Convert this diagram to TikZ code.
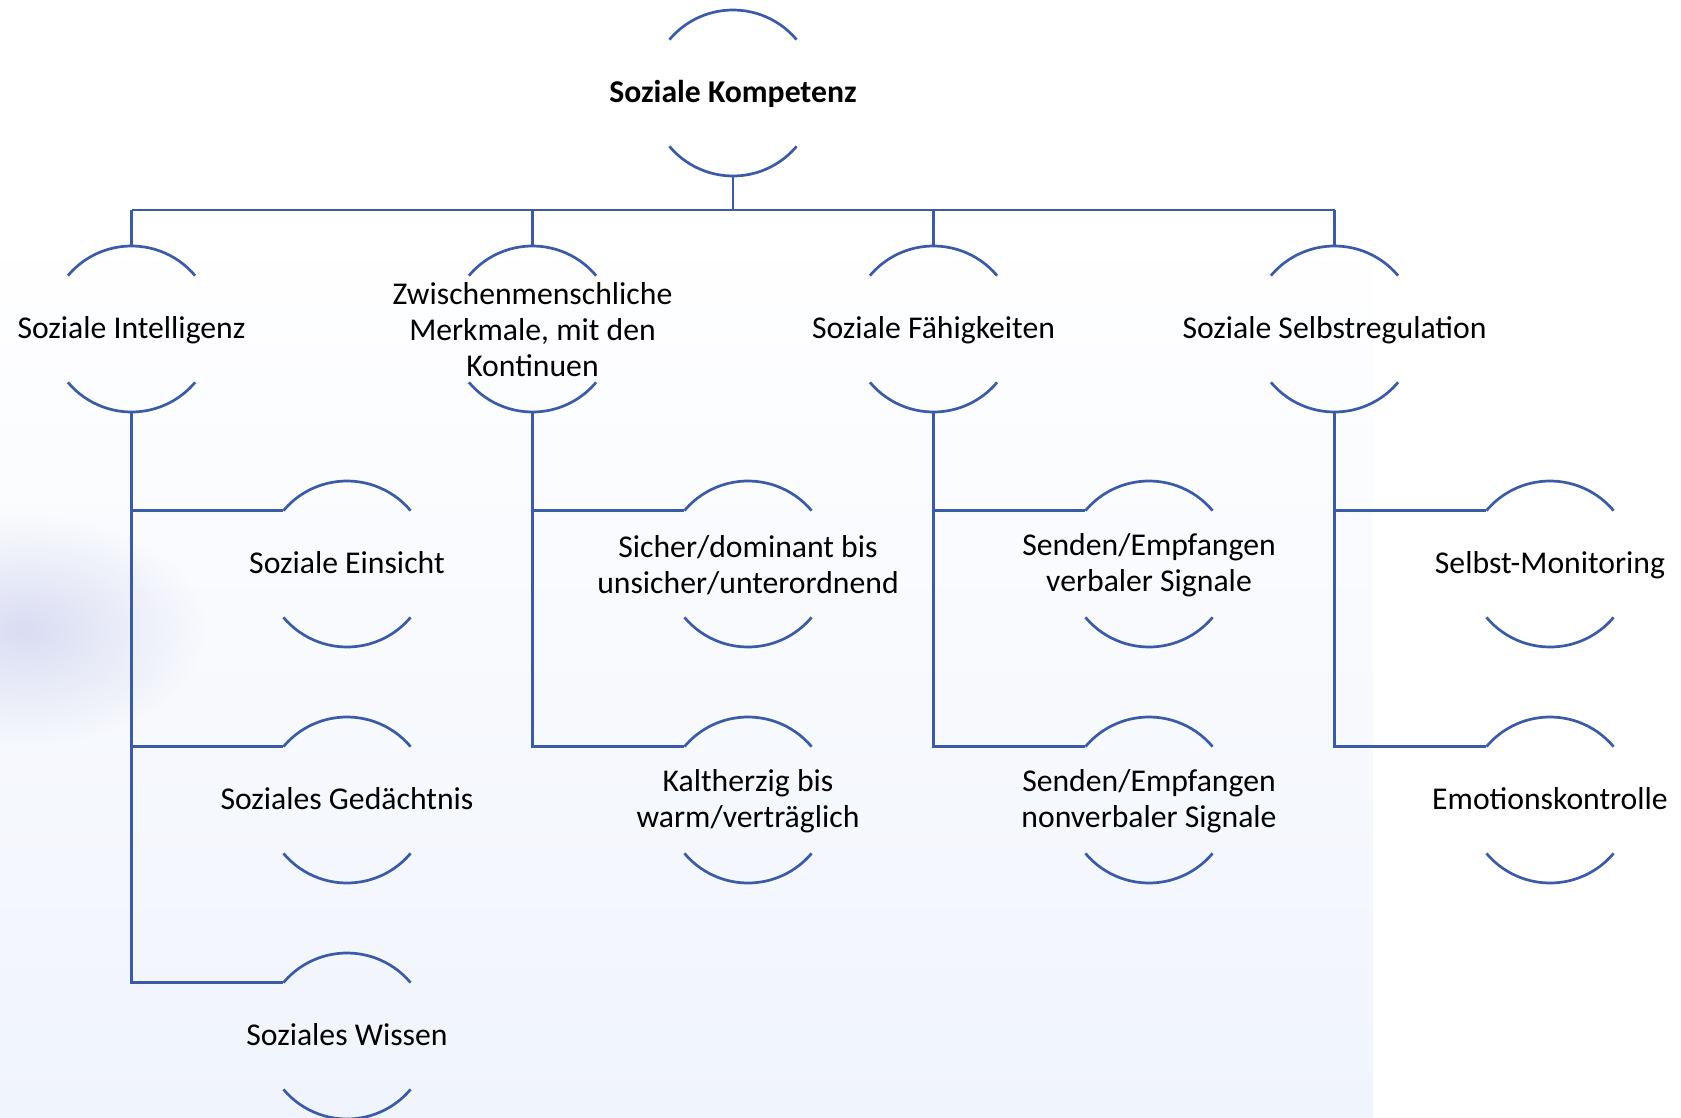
\documentclass[tikz,border=0pt]{standalone}
\usepackage{fontspec}
\setmainfont{Carlito}
\usetikzlibrary{fadings}
\definecolor{lineblue}{RGB}{59,91,166}
\definecolor{bgtint}{RGB}{240,244,252}
\definecolor{lav}{RGB}{218,221,243}
\tikzfading[name=softblob, inner color=transparent!0, outer color=transparent!100]
\newcommand\ringarcs[1]{%
  \draw[conn] ([shift={(40:83pt)}]#1) arc[start angle=40,end angle=140,radius=83pt];
  \draw[conn] ([shift={(220:83pt)}]#1) arc[start angle=220,end angle=320,radius=83pt];}
\newcommand\kidlink[2]{%
  \draw[conn] ([yshift=-83pt]#1) |- ([shift={(140:83pt)}]#2);}
\begin{document}
\begin{tikzpicture}[x=1pt,y=1pt,
  ctext/.style={inner sep=0pt, outer sep=0pt, align=center, font=\fontsize{31.7}{36}\selectfont},
  oneline/.style={ctext, anchor=base, yshift=-9.5pt},
  multiline/.style={ctext, yshift=-1pt},
  conn/.style={draw=lineblue, line width=2.7pt},
]
\useasboundingbox (0,0) rectangle (1681,-1118);
% background
\fill[white] (0,0) rectangle (1681,-1118);
\shade[top color=white, bottom color=bgtint] (0,-220) rectangle (1373,-1118);
\fill[lav, path fading=softblob] (25,-630) ellipse [x radius=180pt, y radius=115pt];

% circle centres
\coordinate (root) at (733,-93);
\coordinate (si) at (131.5,-329);
\coordinate (zm) at (532.5,-329);
\coordinate (sf) at (933.5,-329);
\coordinate (ss) at (1334.5,-329);
\coordinate (si1) at (347,-564);
\coordinate (si2) at (347,-800);
\coordinate (si3) at (347,-1036);
\coordinate (zm1) at (748,-564);
\coordinate (zm2) at (748,-800);
\coordinate (sf1) at (1149,-564);
\coordinate (sf2) at (1149,-800);
\coordinate (ss1) at (1550,-564);
\coordinate (ss2) at (1550,-800);

% texts
\node[oneline, font=\fontsize{31.7}{36}\selectfont\bfseries] (troot) at (root) {Soziale Kompetenz};
\node[oneline] (tsi) at (si) {Soziale Intelligenz};
\node[multiline] (tzm) at (zm) {Zwischenmenschliche\\Merkmale, mit den\\Kontinuen};
\node[oneline] (tsf) at (sf) {Soziale Fähigkeiten};
\node[oneline] (tss) at (ss) {Soziale Selbstregulation};
\node[oneline] (tsi1) at (si1) {Soziale Einsicht};
\node[oneline] (tsi2) at (si2) {Soziales Gedächtnis};
\node[oneline] (tsi3) at (si3) {Soziales Wissen};
\node[multiline] (tzm1) at (zm1) {Sicher/dominant bis\\unsicher/unterordnend};
\node[multiline] (tzm2) at (zm2) {Kaltherzig bis\\warm/verträglich};
\node[multiline] (tsf1) at (sf1) {Senden/Empfangen\\verbaler Signale};
\node[multiline] (tsf2) at (sf2) {Senden/Empfangen\\nonverbaler Signale};
\node[oneline] (tss1) at (ss1) {Selbst-Monitoring};
\node[oneline] (tss2) at (ss2) {Emotionskontrolle};

\coordinate (bus) at (733,-210);

% arcs
\foreach \n in {root,si,zm,sf,ss,si1,si2,si3,zm1,zm2,sf1,sf2,ss1,ss2}{\ringarcs{\n}}

% top connectors
\draw[conn] ([yshift=-83pt]root) -- (bus);
\draw[conn] (si |- bus) -- (ss |- bus);
\foreach \n in {si,zm,sf,ss}{\draw[conn] (\n |- bus) -- ([yshift=83pt]\n);}

% child connectors
\kidlink{si}{si1}
\kidlink{si}{si2}
\kidlink{si}{si3}
\kidlink{zm}{zm1}
\kidlink{zm}{zm2}
\kidlink{sf}{sf1}
\kidlink{sf}{sf2}
\kidlink{ss}{ss1}
\kidlink{ss}{ss2}
\end{tikzpicture}
\end{document}
